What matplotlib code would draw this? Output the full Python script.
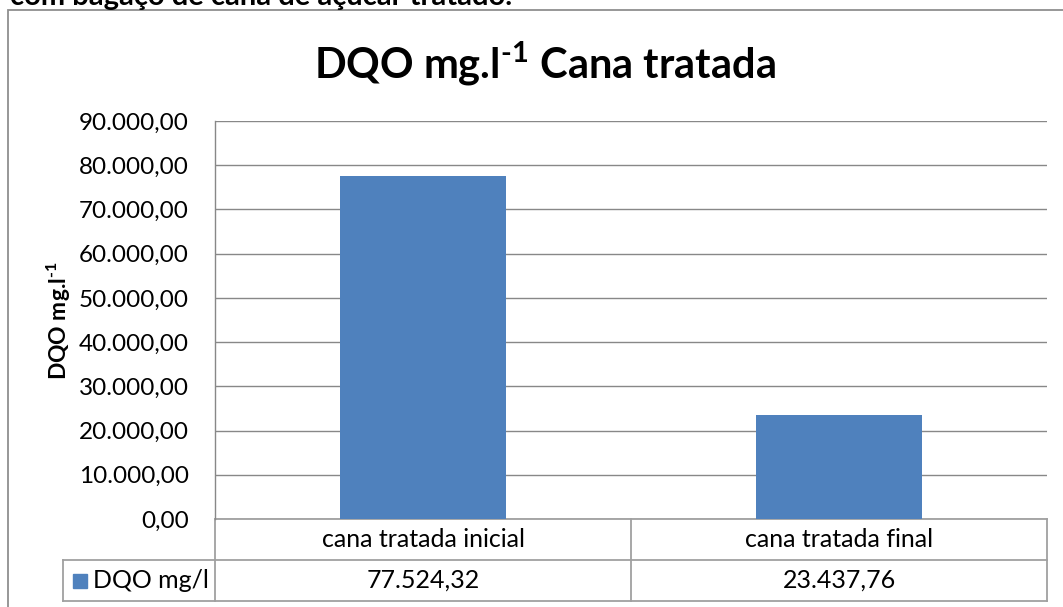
import matplotlib
matplotlib.use("Agg")
import matplotlib.pyplot as plt
from matplotlib.patches import Rectangle
from matplotlib.lines import Line2D
from matplotlib import transforms
from matplotlib.ticker import FuncFormatter, MultipleLocator

categories = ["cana tratada inicial", "cana tratada final"]
values = [77524.32, 23437.76]
series_name = "DQO mg/l"
title = r"DQO mg.l$^{\mathbf{\text{-}1}}$ Cana tratada"
ylabel = r"DQO mg.l$^{\mathbf{\text{-}1}}$"
top_caption = "com bagaço de cana de açúcar tratado."
y_max = 90000
y_step = 10000

plt.rcParams['font.family'] = ['Lato', 'DejaVu Sans']
plt.rcParams['mathtext.fontset'] = 'custom'
plt.rcParams['mathtext.rm'] = 'Lato:bold'
plt.rcParams['mathtext.bf'] = 'Lato:bold'
plt.rcParams['mathtext.it'] = 'Lato:italic'

def br_fmt(v, decimals=2):
    s = f"{v:,.{decimals}f}"
    return s.replace(",", "X").replace(".", ",").replace("X", ".")

W, H = 1063, 607
fig = plt.figure(figsize=(W / 100, H / 100), dpi=100)

def px(x0, y0, w, h):
    return [x0 / W, 1 - (y0 + h) / H, w / W, h / H]

bar_color = "#4F81BD"
grid_color = "#888888"
table_color = "#A0A0A0"

# outer frame of the chart object
fig.patches.append(Rectangle((8 / W, -0.1), 2.0, 1 - 9.5 / H + 0.1,
                             transform=fig.transFigure, fill=False,
                             edgecolor="#8f8f8f", linewidth=1.3))

fig.text(10 / W, 1 - 5 / H, top_caption, fontsize=21, fontweight="bold",
         va="baseline", ha="left", color="black")

ax_left, ax_top, ax_right, ax_bottom = 215, 121, 1047, 519
ax = fig.add_axes(px(ax_left, ax_top, ax_right - ax_left, ax_bottom - ax_top))

x = list(range(len(categories)))
ax.bar(x, values, width=0.4, color=bar_color, zorder=3)
ax.set_xlim(-0.5, len(categories) - 0.5)
ax.set_ylim(0, y_max)
ax.yaxis.set_major_locator(MultipleLocator(y_step))
ax.yaxis.set_major_formatter(FuncFormatter(lambda v, p: br_fmt(v)))
ax.grid(axis="y", color=grid_color, linewidth=1.0, zorder=0)
ax.set_xticks([])
ax.tick_params(axis="y", length=0, pad=19, labelsize=17.5)
for s in ["top", "right", "bottom"]:
    ax.spines[s].set_visible(False)
ax.spines["left"].set_color(grid_color)
ax.spines["left"].set_linewidth(1.0)

fig.text(59 / W, 1 - 321 / H, ylabel, fontsize=16.5, fontweight="bold",
         rotation=90, ha="center", va="center")

fig.text(545 / W, 1 - 64 / H, title, fontsize=30, fontweight="bold",
         ha="center", va="center")

# data table below the plot
ah = ax_bottom - ax_top
aw = ax_right - ax_left
r1 = -(560 - ax_bottom) / ah
r2 = -(601 - ax_bottom) / ah
leg_x = (63 - ax_left) / aw
btr = transforms.blended_transform_factory(ax.transData, ax.transAxes)
tA = ax.transAxes

def hline(x0, x1, y, tr):
    ax.add_line(Line2D([x0, x1], [y, y], transform=tr, color=table_color,
                       linewidth=1.3, clip_on=False))

def vline(xv, y0, y1, tr):
    ax.add_line(Line2D([xv, xv], [y0, y1], transform=tr, color=table_color,
                       linewidth=1.3, clip_on=False))

hline(0, 1, 0, tA)
hline(leg_x, 1, r1, tA)
hline(leg_x, 1, r2, tA)
vline(leg_x, r1, r2, tA)
vline(0, 0, r2, tA)
vline(1, 0, r2, tA)
for i in range(1, len(categories)):
    vline(i - 0.5, 0, r2, btr)

for i, (c, v) in enumerate(zip(categories, values)):
    ax.text(i, r1 / 2, c, transform=btr, ha="center", va="center",
            fontsize=18, clip_on=False)
    ax.text(i, (r1 + r2) / 2, br_fmt(v), transform=btr, ha="center",
            va="center", fontsize=18, clip_on=False)

# legend key in the table
sq_x0 = (73 - ax_left) / aw
sq_w = 14 / aw
sq_h = 14 / ah
ax.add_patch(Rectangle((sq_x0, (r1 + r2) / 2 - sq_h / 2), sq_w, sq_h,
                       transform=tA, color=bar_color, clip_on=False))
ax.text((93 - ax_left) / aw, (r1 + r2) / 2, series_name, transform=tA,
        ha="left", va="center", fontsize=18, clip_on=False)

fig.savefig("out.png", dpi=100)
